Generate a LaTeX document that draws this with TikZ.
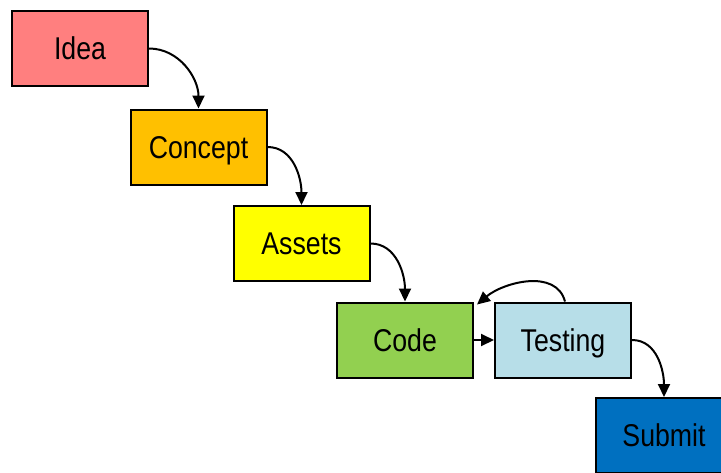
\documentclass[tikz,border=0pt]{standalone}
\usepackage{fontspec}
\setmainfont{Liberation Sans}
\usetikzlibrary{arrows.meta}
\definecolor{ideared}{HTML}{FF7F7F}
\definecolor{conceptorange}{HTML}{FFC000}
\definecolor{assetsyellow}{HTML}{FFFF00}
\definecolor{codegreen}{HTML}{92D050}
\definecolor{testblue}{HTML}{B7DEE8}
\definecolor{submitblue}{HTML}{0070C0}
% label drawn tall, with its capitals centred on the box centre
\newcommand{\boxlabel}[1]{\raisebox{-11.3pt}[0pt][0pt]{\scalebox{1}[1.18]{#1}}}
\tikzset{
  stage/.style={draw=black, line width=2pt, minimum width=136pt, minimum height=75pt,
    inner sep=0pt, text=black, font=\fontsize{26.7}{30}\selectfont},
  flow/.style={line width=2pt, -{Triangle[length=13pt,width=12pt]}}
}
\begin{document}
\begin{tikzpicture}[x=1pt,y=-1pt]
  \useasboundingbox (0,0) rectangle (721,472);
  \clip (0,0) rectangle (721,472);
  % stages of the pipeline, stepping down to the right
  \node[stage, fill=ideared]       (idea)    at (80,48.5)   {\boxlabel{Idea}};
  \node[stage, fill=conceptorange] (concept) at (198.5,147) {\boxlabel{Concept}};
  \node[stage, fill=assetsyellow]  (assets)  at (301.5,243.5) {\boxlabel{Assets}};
  \node[stage, fill=codegreen]     (code)    at (405,340)   {\boxlabel{Code}};
  \node[stage, fill=testblue]      (testing) at (563,340)   {\boxlabel{Testing}};
  \node[stage, fill=submitblue]    (submit)  at (664,435.5) {\boxlabel{Submit}};
  % connectors
  \draw[flow] (idea.east) to[out=0,in=90] (concept.north);
  \draw[flow] (concept.east) to[out=0,in=90] (assets.north);
  \draw[flow] (assets.east) to[out=0,in=90] (code.north);
  \draw[flow] (code.east) -- (testing.west);
  \draw[flow] (testing.east) to[out=0,in=90] (submit.north);
  % feedback loop from testing back to code
  \coordinate (loopstart) at ([xshift=2pt]testing.north);
  \draw[flow] (loopstart) to[out=105,in=40] ([xshift=3pt,yshift=-3pt]code.north east);
\end{tikzpicture}
\end{document}
